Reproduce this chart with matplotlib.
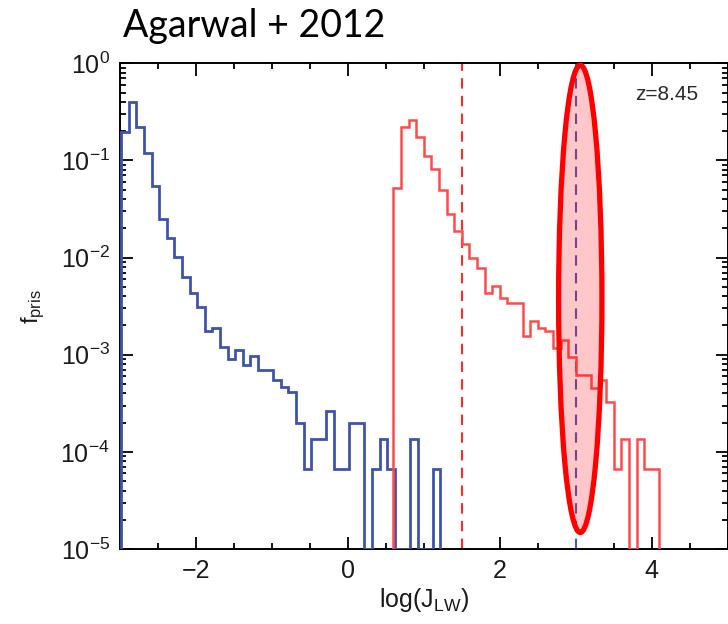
import numpy as np
import matplotlib
matplotlib.use("Agg")
import matplotlib.pyplot as plt
from matplotlib.patches import Ellipse
from matplotlib.ticker import LogLocator, MultipleLocator, NullFormatter, FixedLocator

# Fraction of pristine haloes per log(J_LW) bin (bin width 0.1 dex)
bin_width = 0.1

# Blue: distribution at the earlier (lower J_LW) stage
blue_start = -2.98
blue_frac = [0.197, 0.40, 0.22, 0.118, 0.054, 0.0247, 0.016, 0.0102, 0.00625, 0.00428,
             0.00307, 0.00176, 0.00187, 0.00119, 0.000895, 0.00113, 0.00079, 0.00097, 0.00069, 0.00069,
             0.000547, 0.000467, 0.000415, 0.0002, 6.6e-5, 1.37e-4, 1.37e-4, 2.64e-4, 6.6e-5, 6.6e-5,
             2.0e-4, 2.0e-4, 0, 6.6e-5, 1.37e-4, 6.6e-5, 0, 0, 1.37e-4, 0, 0, 6.6e-5]

# Red: distribution including the local (close-neighbour) contribution
red_start = 0.6
red_frac = [0.0524, 0.219, 0.261, 0.175, 0.112, 0.081, 0.0496, 0.028, 0.0189, 0.0138,
            0.0098, 0.00774, 0.00428, 0.00509, 0.0038, 0.00342, 0.00342, 0.00156, 0.00222, 0.00187,
            0.00176, 0.00118, 0.00141, 0.00095, 0.000616, 0.000616, 0.000456, 0.000547, 0.000329, 6.67e-5,
            1.35e-4, 0, 1.35e-4, 6.6e-5, 6.6e-5]

red_mean_line = 1.5      # dashed red marker
blue_crit_line = 3.0     # dashed blue marker (critical J_LW)
highlight_center = 3.06  # highlighted region around the critical value
highlight_halfwidth = 0.285

redshift_label = "z=8.45"
title_text = "Agarwal + 2012"
x_ticks = [-2, 0, 2, 4]
x_ticklabels = ["\u22122", "0", "2", "4"]
x_limits = (-3.0, 5.0)
y_limits = (1e-5, 1.0)

plt.rcParams["font.family"] = ["Liberation Sans", "DejaVu Sans"]
plt.rcParams["mathtext.fontset"] = "custom"
plt.rcParams["mathtext.rm"] = "Liberation Sans"
plt.rcParams["mathtext.it"] = "Liberation Sans:italic"
plt.rcParams["mathtext.bf"] = "Liberation Sans:bold"

fig = plt.figure(figsize=(7.28, 6.24), dpi=100)
ax = fig.add_axes([119.7 / 728, 75 / 624, 608 / 728, 485.7 / 624])

ymin = y_limits[0]


def edges_for(start, n):
    return np.round(start + bin_width * np.arange(n + 1), 3)


blue_vals = np.maximum(np.array(blue_frac, dtype=float), ymin)
red_vals = np.maximum(np.array(red_frac, dtype=float), ymin)

ax.stairs(blue_vals, edges_for(blue_start, len(blue_frac)), baseline=ymin,
          color="#3d54aa", lw=2.0, zorder=3)
ax.stairs(red_vals, edges_for(red_start, len(red_frac)), baseline=ymin,
          color="#ff4a4a", lw=1.8, zorder=3)

ax.axvline(red_mean_line, color="#ff2a2a", lw=1.5, ls=(0, (5, 3.5)), zorder=2)
ax.axvline(blue_crit_line, color="#4a5ab0", lw=1.5, ls=(0, (5, 3.5)), zorder=2)

ell = Ellipse((highlight_center, 0.515), width=2 * highlight_halfwidth, height=0.962,
              transform=ax.get_xaxis_transform(), facecolor=(1.0, 0.0, 0.05, 0.22),
              edgecolor="#ff0000", lw=3.8, zorder=5, clip_on=False)
ax.add_patch(ell)

ax.set_yscale("log")
ax.set_xlim(*x_limits)
ax.set_ylim(*y_limits)

ax.xaxis.set_major_locator(FixedLocator(x_ticks))
ax.set_xticklabels(x_ticklabels)
ax.xaxis.set_minor_locator(MultipleLocator(0.5))
ax.yaxis.set_major_locator(LogLocator(base=10, numticks=10))
ax.yaxis.set_minor_locator(LogLocator(base=10, subs=np.arange(2, 10), numticks=20))
ax.yaxis.set_minor_formatter(NullFormatter())

ax.tick_params(which="both", direction="in", top=True, right=True, width=1.3, colors="black")
ax.tick_params(which="major", length=9, labelsize=18, pad=7, labelcolor="#1a1a1a")
ax.tick_params(which="minor", length=4.5)
for s in ax.spines.values():
    s.set_linewidth(1.4)

ax.set_xlabel(r"log(J$_{\rm LW}$)", fontsize=18, labelpad=2, color="#1a1a1a")
ax.set_ylabel(r"f$_{\rm pris}$", fontsize=17, labelpad=10, color="#1a1a1a")

ax.text(0.9, 0.935, redshift_label, transform=ax.transAxes, ha="center", va="center",
        fontsize=15, color="#2a2a2a")

fig.text(123 / 728, 1 - 26 / 624, title_text, ha="left", va="center",
         fontsize=27, family=["Lato", "DejaVu Sans"], color="black")

fig.savefig("out.png", dpi=100)
